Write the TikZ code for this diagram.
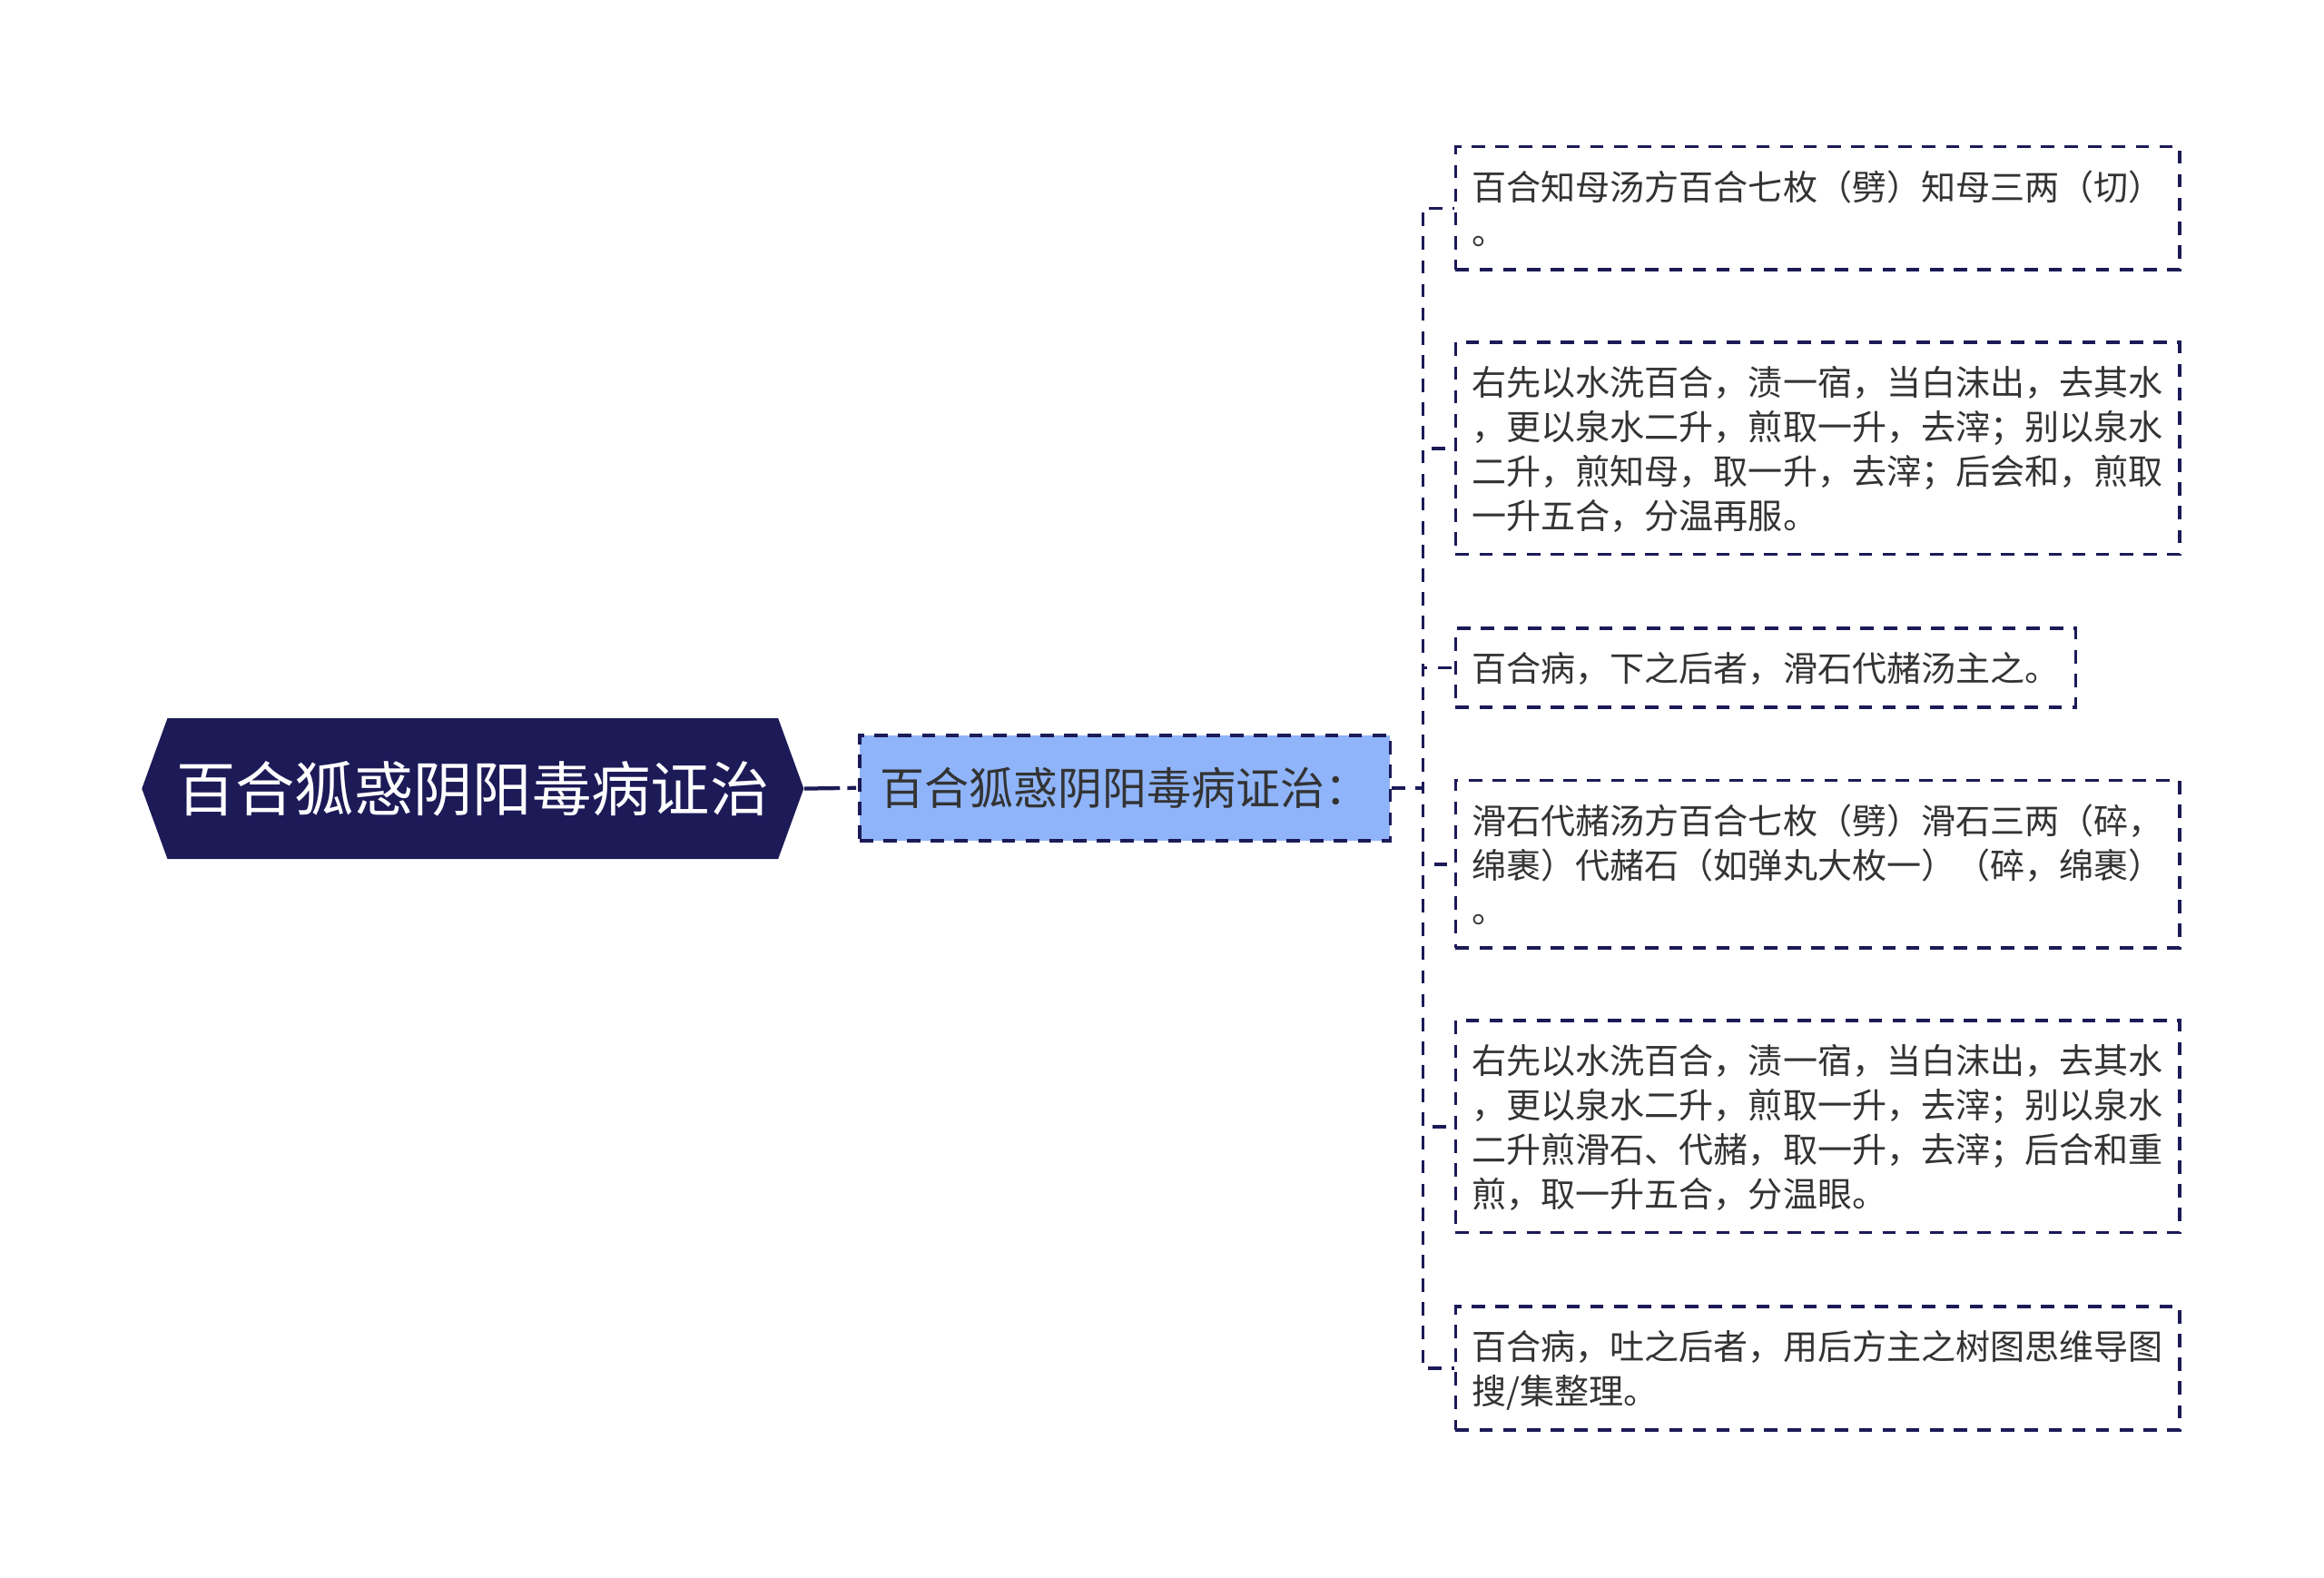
\documentclass[tikz,border=0pt]{standalone}
\usepackage{fontspec}
\setmainfont{Noto Sans CJK SC}
\usetikzlibrary{shapes.symbols}
\definecolor{navy}{HTML}{1C1A57}
\definecolor{paleblue}{HTML}{8FB4F9}
\definecolor{ink}{HTML}{333333}
\newcommand\topstrut{\rule{0pt}{12.2pt}}
\newcommand\botstrut{\rule[-2.8pt]{0pt}{2.8pt}}
\begin{document}
\begin{tikzpicture}[x=0.5pt,y=-0.5pt,
    link/.style={draw=navy,line width=1.1pt,dash pattern=on 4.5pt off 3.5pt},
    leaf/.style={link,anchor=west,align=left,inner xsep=5.5pt,inner ysep=5.75pt,
        text=ink,font=\fontsize{11.66}{15}\selectfont}]
    \useasboundingbox (0,0) rectangle (1568,1064);
    % root begin
    \node[signal,signal to=west and east,signal pointer angle=140,fill=navy,
        text=white,font=\fontsize{20}{24}\selectfont,
        minimum height=47.5pt,inner xsep=3pt] (root) at (319,532) {百合狐惑阴阳毒病证治};
    \node[link,fill=paleblue,text=ink,font=\fontsize{15}{18}\selectfont,
        minimum width=179pt,minimum height=35.5pt,inner sep=0pt] (sub) at (759,531.5) {百合狐惑阴阳毒病证治：};
    \draw[navy,line width=1.3pt,dash pattern=on 12pt off 2.5pt on 3pt off 10pt] (root.east) -- (sub.west);
    % root end
    % leaves begin
    \node[leaf] (leaf1) at (981,140.5) {\topstrut 百合知母汤方百合七枚（劈）知母三两（切）\\。\botstrut};
    \node[leaf] (leaf2) at (981,302.5) {\topstrut 右先以水洗百合，渍一宿，当白沫出，去其水\\，更以泉水二升，煎取一升，去滓；别以泉水\\二升，煎知母，取一升，去滓；后会和，煎取\\一升五合，分温再服。\botstrut};
    \node[leaf] (leaf3) at (981,450.5) {\topstrut 百合病，下之后者，滑石代赭汤主之。\botstrut};
    \node[leaf] (leaf4) at (981,583) {\topstrut 滑石代赭汤方百合七枚（劈）滑石三两（碎，\\绵裹）代赭石（如弹丸大枚一）（碎，绵裹）\\。\botstrut};
    \node[leaf] (leaf5) at (981,760) {\topstrut 右先以水洗百合，渍一宿，当白沫出，去其水\\，更以泉水二升，煎取一升，去滓；别以泉水\\二升煎滑石、代赭，取一升，去滓；后合和重\\煎，取一升五合，分温眼。\botstrut};
    \node[leaf] (leaf6) at (981,923) {\topstrut 百合病，吐之后者，用后方主之树图思维导图\\搜/集整理。\botstrut};
    % leaves end
    \foreach \i in {1,...,6}
        \draw[link] (sub.east) -- ++(21,0) |- (leaf\i.west);
\end{tikzpicture}
\end{document}
